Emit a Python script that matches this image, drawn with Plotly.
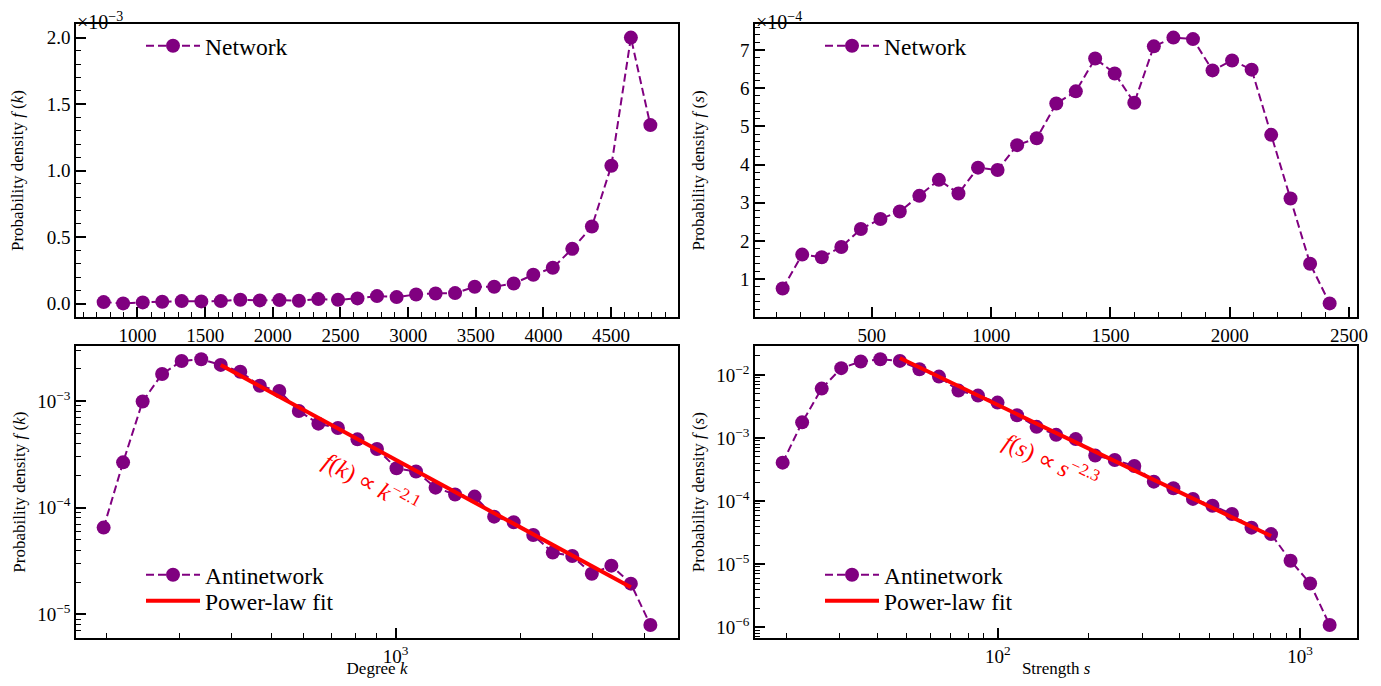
import numpy as np
import plotly.graph_objects as go

# ---------------- data ----------------
# Top-left: Network degree distribution (density in units of 1e-3)
net_degree = [750, 894, 1039, 1183, 1327, 1472, 1616, 1760, 1904, 2049, 2193, 2337,
              2482, 2626, 2770, 2915, 3059, 3203, 3347, 3492, 3636, 3780, 3925, 4069,
              4213, 4358, 4502, 4646, 4790]
net_degree_density_e3 = [0.0125, 0.0025, 0.01, 0.015, 0.02, 0.0175, 0.02, 0.03, 0.025,
                         0.0275, 0.0225, 0.035, 0.03, 0.04, 0.0575, 0.05, 0.07, 0.0775,
                         0.08, 0.1275, 0.1275, 0.1525, 0.2175, 0.27, 0.4125, 0.58,
                         1.0375, 2.0, 1.3425]

# Top-right: Network strength distribution (density in units of 1e-4)
net_strength = [126, 208, 290, 372, 454, 536, 617, 699, 781, 863, 945, 1027, 1109, 1191,
                1273, 1355, 1436, 1518, 1600, 1682, 1764, 1846, 1928, 2010, 2092, 2174,
                2255, 2337, 2419]
net_strength_density_e4 = [0.75, 1.64, 1.57, 1.84, 2.31, 2.575, 2.77, 3.18, 3.60, 3.24,
                           3.92, 3.86, 4.51, 4.69, 5.60, 5.92, 6.78, 6.39, 5.62, 7.10,
                           7.33, 7.29, 6.47, 6.73, 6.49, 4.78, 3.11, 1.40, 0.36]

# Bottom-left: Antinetwork degree distribution
anti_degree = [196.7, 219.2, 244.4, 272.4, 303.7, 338.7, 377.6, 421.0, 469.3, 523.2,
               583.3, 650.3, 725.1, 808.3, 901.2, 1004.8, 1120.2, 1248.9, 1392.3,
               1552.4, 1730.7, 1929.5, 2151.4, 2398.6, 2674.0, 2981.5, 3323.9,
               3705.5, 4130.5]
anti_degree_density = [6.5e-5, 2.66e-4, 9.9e-4, 1.79e-3, 2.37e-3, 2.46e-3, 2.18e-3,
                       1.88e-3, 1.39e-3, 1.24e-3, 8.06e-4, 6.13e-4, 5.58e-4, 4.37e-4,
                       3.55e-4, 2.34e-4, 2.18e-4, 1.54e-4, 1.33e-4, 1.27e-4, 8.24e-5,
                       7.29e-5, 5.54e-5, 3.79e-5, 3.52e-5, 2.40e-5, 2.86e-5, 1.94e-5,
                       7.94e-6]
degree_fit_amp = 561.0
degree_fit_exp = -2.1
degree_fit_range = (6, 27)  # first/last bin index covered by the fit

# Bottom-right: Antinetwork strength distribution
anti_strength = [19.44, 22.55, 26.17, 30.37, 35.24, 40.89, 47.46, 55.07, 63.91, 74.13,
                 86.03, 99.82, 115.8, 134.4, 156.0, 181.0, 210.0, 243.7, 282.8, 328.1,
                 380.8, 441.9, 512.7, 595.0, 690.2, 801.0, 929.3, 1078.4, 1251.4]
anti_strength_density = [4.06e-4, 1.77e-3, 6.07e-3, 1.28e-2, 1.63e-2, 1.77e-2, 1.67e-2,
                         1.23e-2, 9.4e-3, 5.64e-3, 4.70e-3, 3.64e-3, 2.29e-3, 1.50e-3,
                         1.12e-3, 9.6e-4, 5.25e-4, 4.48e-4, 3.6e-4, 2.03e-4, 1.59e-4,
                         1.08e-4, 8.43e-5, 6.22e-5, 3.78e-5, 2.99e-5, 1.13e-5, 4.93e-6,
                         1.08e-6]
strength_fit_amp = 133.0
strength_fit_exp = -2.3
strength_fit_range = (6, 25)

# ---------------- layout helpers ----------------
OFF = 8                      # default page margin of the browser
W, H = 1381 - 2 * OFF, 686 - 2 * OFF
FONT = "Liberation Serif"
PURPLE = "#800080"
RED = "#ff0000"


def fx(p):
    return (p - OFF) / W


def fy(p):
    return 1 - (p - OFF) / H


def lin_range(v):
    lo, hi = min(v), max(v)
    m = 0.05 * (hi - lo)
    return [lo - m, hi + m]


def log_range(v):
    lv = np.log10(v)
    lo, hi = lv.min(), lv.max()
    m = 0.05 * (hi - lo)
    return [lo - m, hi + m]


def sup(n):
    return "10<sup>\u2212%d</sup>" % -n if n < 0 else "10<sup>%d</sup>" % n


def minor_log_vals(e0, e1):
    vals = []
    for e in range(e0, e1 + 1):
        for m in range(2, 10):
            vals.append(m * 10.0 ** e)
    return vals


LEFT = [76.3, 677.7]
RIGHT = [755.3, 1357.0]
TOP = [24.3, 316.7]
BOT = [346.0, 638.3]

TICK_SIZE = 19
axis_common = dict(
    showline=True, linecolor="black", linewidth=2, mirror=True,
    showgrid=False, zeroline=False,
    ticks="inside", ticklen=10, tickwidth=1.5, tickcolor="black",
    tickfont=dict(family=FONT, size=TICK_SIZE, color="black"),
    automargin=False,
)
minor_common = dict(ticks="inside", ticklen=5, tickwidth=1.2, tickcolor="black", showgrid=False)
title_font = dict(family=FONT, size=17, color="black")

line_style = dict(color=PURPLE, width=2, dash="8px,4px")
marker_style = dict(size=14, color=PURPLE)
fit_style = dict(color=RED, width=4)

fig = go.Figure()

# top-left
fig.add_trace(go.Scatter(x=net_degree, y=net_degree_density_e3, mode="lines+markers",
                         line=line_style, marker=marker_style, name="Network",
                         xaxis="x", yaxis="y", legend="legend"))
# top-right
fig.add_trace(go.Scatter(x=net_strength, y=net_strength_density_e4, mode="lines+markers",
                         line=line_style, marker=marker_style, name="Network",
                         xaxis="x2", yaxis="y2", legend="legend2"))
# bottom-left
fig.add_trace(go.Scatter(x=anti_degree, y=anti_degree_density, mode="lines+markers",
                         line=line_style, marker=marker_style, name="Antinetwork",
                         xaxis="x3", yaxis="y3", legend="legend3"))
kf = np.array(anti_degree[degree_fit_range[0]:degree_fit_range[1] + 1])
fig.add_trace(go.Scatter(x=kf, y=degree_fit_amp * kf ** degree_fit_exp, mode="lines",
                         line=fit_style, name="Power-law fit",
                         xaxis="x3", yaxis="y3", legend="legend5"))
# bottom-right
fig.add_trace(go.Scatter(x=anti_strength, y=anti_strength_density, mode="lines+markers",
                         line=line_style, marker=marker_style, name="Antinetwork",
                         xaxis="x4", yaxis="y4", legend="legend4"))
sf = np.array(anti_strength[strength_fit_range[0]:strength_fit_range[1] + 1])
fig.add_trace(go.Scatter(x=sf, y=strength_fit_amp * sf ** strength_fit_exp, mode="lines",
                         line=fit_style, name="Power-law fit",
                         xaxis="x4", yaxis="y4", legend="legend6"))

legend_common = dict(font=dict(family=FONT, size=23.5, color="black"),
                     bgcolor="rgba(0,0,0,0)", borderwidth=0, xanchor="left", yanchor="top",
                     tracegroupgap=0, itemwidth=54)

LEG_L, LEG_R = 141, 820
fig.update_layout(
    width=W, height=H, autosize=False,
    margin=dict(l=0, r=0, t=0, b=0),
    paper_bgcolor="white", plot_bgcolor="white",
    font=dict(family=FONT, color="black"),
    xaxis=dict(domain=[fx(LEFT[0]), fx(LEFT[1])], anchor="y",
               range=lin_range(net_degree), dtick=500, tick0=0, tickformat="d",
               minor=dict(dtick=100, tick0=0, **minor_common), **axis_common),
    yaxis=dict(domain=[fy(TOP[1]), fy(TOP[0])], anchor="x",
               range=lin_range(net_degree_density_e3), dtick=0.5, tick0=0, tickformat=".1f",
               minor=dict(dtick=0.1, tick0=0, **minor_common),
               title=dict(text="Probability density <i>f</i> (<i>k</i>)", font=title_font, standoff=21),
               **axis_common),
    xaxis2=dict(domain=[fx(RIGHT[0]), fx(RIGHT[1])], anchor="y2",
                range=lin_range(net_strength), dtick=500, tick0=0, tickformat="d",
                minor=dict(dtick=100, tick0=0, **minor_common), **axis_common),
    yaxis2=dict(domain=[fy(TOP[1]), fy(TOP[0])], anchor="x2",
                range=lin_range(net_strength_density_e4), dtick=1, tick0=0, tickformat="d",
                minor=dict(dtick=0.2, tick0=0, **minor_common),
                title=dict(text="Probability density <i>f</i> (<i>s</i>)", font=title_font, standoff=31),
                **axis_common),
    xaxis3=dict(domain=[fx(LEFT[0]), fx(LEFT[1])], anchor="y3", type="log",
                range=log_range(anti_degree), tickmode="array", tickvals=[1e3], ticktext=[sup(3)],
                minor=dict(tickmode="array", tickvals=minor_log_vals(2, 3), **minor_common),
                title=dict(text="Degree <i>k</i>", font=title_font, standoff=5),
                **axis_common),
    yaxis3=dict(domain=[fy(BOT[1]), fy(BOT[0])], anchor="x3", type="log",
                range=log_range(anti_degree_density), tickmode="array",
                tickvals=[1e-5, 1e-4, 1e-3], ticktext=[sup(-5), sup(-4), sup(-3)],
                minor=dict(tickmode="array", tickvals=minor_log_vals(-6, -3), **minor_common),
                title=dict(text="Probability density <i>f</i> (<i>k</i>)", font=title_font, standoff=7),
                **axis_common),
    xaxis4=dict(domain=[fx(RIGHT[0]), fx(RIGHT[1])], anchor="y4", type="log",
                range=log_range(anti_strength), tickmode="array", tickvals=[1e2, 1e3],
                ticktext=[sup(2), sup(3)],
                minor=dict(tickmode="array", tickvals=minor_log_vals(1, 3), **minor_common),
                title=dict(text="Strength <i>s</i>", font=title_font, standoff=5),
                **axis_common),
    yaxis4=dict(domain=[fy(BOT[1]), fy(BOT[0])], anchor="x4", type="log",
                range=log_range(anti_strength_density), tickmode="array",
                tickvals=[1e-6, 1e-5, 1e-4, 1e-3, 1e-2],
                ticktext=[sup(-6), sup(-5), sup(-4), sup(-3), sup(-2)],
                minor=dict(tickmode="array", tickvals=minor_log_vals(-7, -2), **minor_common),
                title=dict(text="Probability density <i>f</i> (<i>s</i>)", font=title_font, standoff=7),
                **axis_common),
    legend=dict(x=fx(LEG_L), y=fy(24), **legend_common),
    legend2=dict(x=fx(LEG_R), y=fy(24), **legend_common),
    legend3=dict(x=fx(LEG_L), y=fy(553), **legend_common),
    legend4=dict(x=fx(LEG_R), y=fy(553), **legend_common),
    legend5=dict(x=fx(LEG_L), y=fy(579), **legend_common),
    legend6=dict(x=fx(LEG_R), y=fy(579), **legend_common),
    showlegend=True,
)

offset_font = dict(family=FONT, size=20, color="black")
annotations = [
    dict(text="\u00d710<sup>\u22123</sup>", xref="paper", yref="paper", x=fx(LEFT[0]),
         y=1, xanchor="left", yanchor="top", borderpad=0, showarrow=False, font=offset_font),
    dict(text="\u00d710<sup>\u22124</sup>", xref="paper", yref="paper", x=fx(RIGHT[0]),
         y=1, xanchor="left", yanchor="top", borderpad=0, showarrow=False, font=offset_font),
    dict(text="<i>f</i>(<i>k</i>) \u221d <i>k</i><sup>\u22122.1</sup>", xref="paper", yref="paper",
         x=fx(371), y=fy(482), xanchor="center", yanchor="middle", textangle=28.5,
         showarrow=False, font=dict(family=FONT, size=24, color=RED)),
    dict(text="<i>f</i>(<i>s</i>) \u221d <i>s</i><sup>\u22122.3</sup>", xref="paper", yref="paper",
         x=fx(1051), y=fy(460), xanchor="center", yanchor="middle", textangle=25.6,
         showarrow=False, font=dict(family=FONT, size=24, color=RED)),
]
fig.update_layout(annotations=annotations)

fig.write_html("out.html")
